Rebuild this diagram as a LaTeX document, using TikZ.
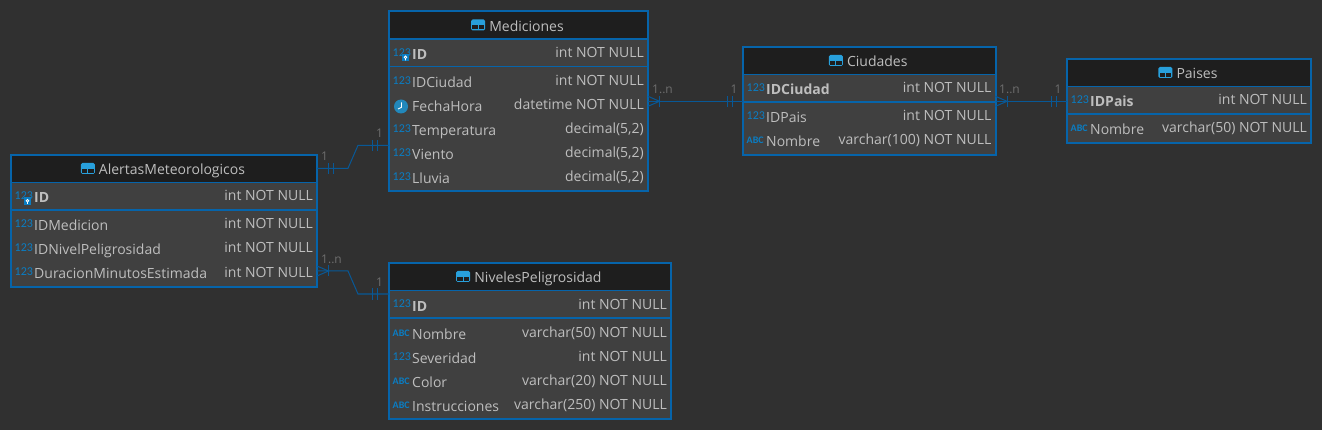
\documentclass[tikz,border=0pt]{standalone}
\usepackage{fontspec}
\setmainfont{Open Sans}
\newfontfamily\iconfont{Carlito}
\usetikzlibrary{calc}
\definecolor{bgcol}{RGB}{48,48,48}
\definecolor{bodycol}{RGB}{64,64,64}
\definecolor{headcol}{RGB}{30,30,30}
\definecolor{framecol}{RGB}{6,100,170}
\definecolor{relcol}{RGB}{8,88,150}
\definecolor{textcol}{RGB}{190,190,190}
\definecolor{labelcol}{RGB}{110,110,110}
\definecolor{iconcol}{RGB}{10,125,195}
\definecolor{lightcol}{RGB}{40,160,220}
\tikzset{
  x=1pt,y=-1pt,
  tablebody/.style={fill=bodycol,anchor=north west,inner sep=0pt,outer sep=0pt},
  frameline/.style={draw=framecol,line width=2pt},
  titletext/.style={text=textcol,anchor=base,inner sep=0pt,font=\fontsize{14}{16}\selectfont},
  nametext/.style={text=textcol,anchor=base west,inner sep=0pt,font=\fontsize{14}{16}\selectfont},
  keytext/.style={nametext,font=\fontsize{14}{16}\selectfont\bfseries},
  typetext/.style={text=textcol,anchor=base east,inner sep=0pt,font=\fontsize{14}{16}\selectfont},
  numtext/.style={text=iconcol,anchor=base west,inner sep=0pt,font=\iconfont\fontsize{12}{14}\selectfont},
  abctext/.style={text=iconcol,anchor=base west,inner sep=0pt,font=\iconfont\fontsize{10}{12}\selectfont\bfseries},
  rel/.style={draw=relcol,line width=1pt},
  card/.style={text=labelcol,anchor=base west,inner sep=0pt,font=\fontsize{12}{14}\selectfont}
}
% Column icons
\newcommand{\numico}[1]{\node[numtext] (#1ico) at ($(#1)+(-19.5,-3)$) {123};}
\newcommand{\abcico}[1]{\node[abctext] (#1ico) at ($(#1)+(-19.5,-3)$) {ABC};}
\newcommand{\clockico}[1]{%
  \node[circle,fill=lightcol!85!black,minimum size=14pt,inner sep=0pt] (#1ico) at ($(#1)+(-11,-5)$) {};
  \draw[white,line width=.9pt] ($(#1ico)+(.5,-4)$) -- ($(#1ico)+(.5,.8)$) -- ($(#1ico)+(-3,2.5)$);}
\newcommand{\keyico}[1]{%
  \numico{#1}
  \fill[iconcol] ($(#1)+(-10,-5.5)$) rectangle ($(#1)+(-3,2)$);
  \draw[white,line width=.8pt] ($(#1)+(-6.5,-2.2)$) circle (1.3) ($(#1)+(-6.5,-1)$) -- ($(#1)+(-6.5,1)$);}
% Table: name, corner, width, height, title, key icon, key column, key type, rows
\newcommand{\dbtable}[9]{%
  \node[tablebody,minimum width=#3pt,minimum height=#4pt] (#1) at (#2) {};
  \fill[headcol] (#1.north west) rectangle ($(#1.north east)+(0,27.5)$);
  \draw[framecol,line width=1.3pt] ($(#1.north west)+(0,27.5)$) -- ($(#1.north east)+(0,27.5)$);
  \draw[framecol,line width=1.3pt] ($(#1.north west)+(0,55)$) -- ($(#1.north east)+(0,55)$);
  \draw[frameline] (#1.north west) rectangle (#1.south east);
  % Title
  \node[titletext] (#1title) at ($(#1.north)+(8,20)$) {#5};
  \fill[lightcol,rounded corners=1.5pt] ($(#1title.base west)+(-18,-12)$) rectangle ($(#1title.base west)+(-4,-1)$);
  \fill[headcol] ($(#1title.base west)+(-16.8,-6.3)$) rectangle ($(#1title.base west)+(-11.5,-2.2)$);
  \fill[headcol] ($(#1title.base west)+(-10.5,-6.3)$) rectangle ($(#1title.base west)+(-5.2,-2.2)$);
  % Key row
  \coordinate (#1key) at ($(#1.north west)+(23,48)$);
  #6{#1key}
  \node[keytext] (#1keyname) at (#1key) {#7};
  \node[typetext] (#1keytype) at ($(#1.north east)+(-4,46)$) {#8};
  % Other rows
  \foreach \icosym/\colname/\coltype [count=\n from 0] in {#9} {
    \coordinate (#1p\n) at ($(#1.north west)+(23,76+24*\n)$);
    \icosym{#1p\n}
    \node[nametext] (#1name\n) at (#1p\n) {\colname};
    \node[typetext] (#1type\n) at ($(#1.north east)+(-4,74+24*\n)$) {\coltype};
  }}
% Ticks on a relation, at two distances from a point
\newcommand{\barpair}[3]{%
  \draw[rel] ($(#1)+(#2,-5.5)$) -- ($(#1)+(#2,5.5)$);
  \draw[rel] ($(#1)+(#3,-5.5)$) -- ($(#1)+(#3,5.5)$);}
\newcommand{\crowfoot}[1]{%
  \draw[rel] ($(#1)+(0,-5)$) -- ($(#1)+(11.5,0)$) -- ($(#1)+(0,5)$);
  \draw[rel] ($(#1)+(11.5,-5.5)$) -- ($(#1)+(11.5,5.5)$);}
\begin{document}
\begin{tikzpicture}
    \useasboundingbox (0,0) rectangle (1322,430);
    \fill[bgcol] (0,0) rectangle (1322,430);
    % Tables
    \dbtable{mediciones}{389,11.5}{259}{180}{Mediciones}{\keyico}{ID}{int NOT NULL}{%
      \numico/IDCiudad/int NOT NULL,
      \clockico/FechaHora/datetime NOT NULL,
      \numico/Temperatura/{decimal(5,2)},
      \numico/Viento/{decimal(5,2)},
      \numico/Lluvia/{decimal(5,2)}}
    \dbtable{alertas}{11,155}{306}{132}{AlertasMeteorologicos}{\keyico}{ID}{int NOT NULL}{%
      \numico/IDMedicion/int NOT NULL,
      \numico/IDNivelPeligrosidad/int NOT NULL,
      \numico/DuracionMinutosEstimada/int NOT NULL}
    \dbtable{ciudades}{743,47}{252.5}{108}{Ciudades}{\numico}{IDCiudad}{int NOT NULL}{%
      \numico/IDPais/int NOT NULL,
      \abcico/Nombre/varchar(100) NOT NULL}
    \dbtable{paises}{1067,59}{244}{84}{Paises}{\numico}{IDPais}{int NOT NULL}{%
      \abcico/Nombre/varchar(50) NOT NULL}
    \dbtable{niveles}{389,263}{282}{156}{NivelesPeligrosidad}{\numico}{ID}{int NOT NULL}{%
      \abcico/Nombre/varchar(50) NOT NULL,
      \numico/Severidad/int NOT NULL,
      \abcico/Color/varchar(20) NOT NULL,
      \abcico/Instrucciones/varchar(250) NOT NULL}
    % Points
    \coordinate (alertasA) at ($(alertas.north east)+(0,13.3)$);
    \coordinate (alertasB) at ($(alertas.north east)+(0,116)$);
    \coordinate (medicionesA) at ($(mediciones.north west)+(0,133.8)$);
    \coordinate (medicionesB) at ($(mediciones.north east)+(0,89.8)$);
    \coordinate (nivelesA) at ($(niveles.north west)+(0,31)$);
    \coordinate (ciudadesA) at ($(ciudades.north west)+(0,54.3)$);
    \coordinate (ciudadesB) at ($(ciudades.north east)+(0,54.3)$);
    \coordinate (paisesA) at ($(paises.north west)+(0,42.3)$);
    % Drawing
    \draw[rel] (alertasA) -- ++(31,0) -- ($(medicionesA)+(-31,0)$) -- (medicionesA);
    \draw[rel] (alertasB) -- ++(31,0) -- ($(nivelesA)+(-31,0)$) -- (nivelesA);
    \draw[rel] (medicionesB) -- (ciudadesA);
    \draw[rel] (ciudadesB) -- (paisesA);
    \barpair{alertasA}{11.5}{16.5}
    \barpair{medicionesA}{-17}{-12}
    \barpair{nivelesA}{-17}{-12}
    \barpair{ciudadesA}{-16}{-11}
    \barpair{paisesA}{-16}{-11}
    \crowfoot{alertasB}
    \crowfoot{medicionesB}
    \crowfoot{ciudadesB}
    % Labels
    \node[card] (cardA) at (321,160.5) {1};
    \node[card] (cardB) at (376,137.5) {1};
    \node[card] (cardC) at (321,264) {1..n};
    \node[card] (cardD) at (376,286.5) {1};
    \node[card] (cardE) at (652,94) {1..n};
    \node[card] (cardF) at (730.5,94) {1};
    \node[card] (cardG) at (999,94) {1..n};
    \node[card] (cardH) at (1054.5,94) {1};
\end{tikzpicture}
\end{document}
